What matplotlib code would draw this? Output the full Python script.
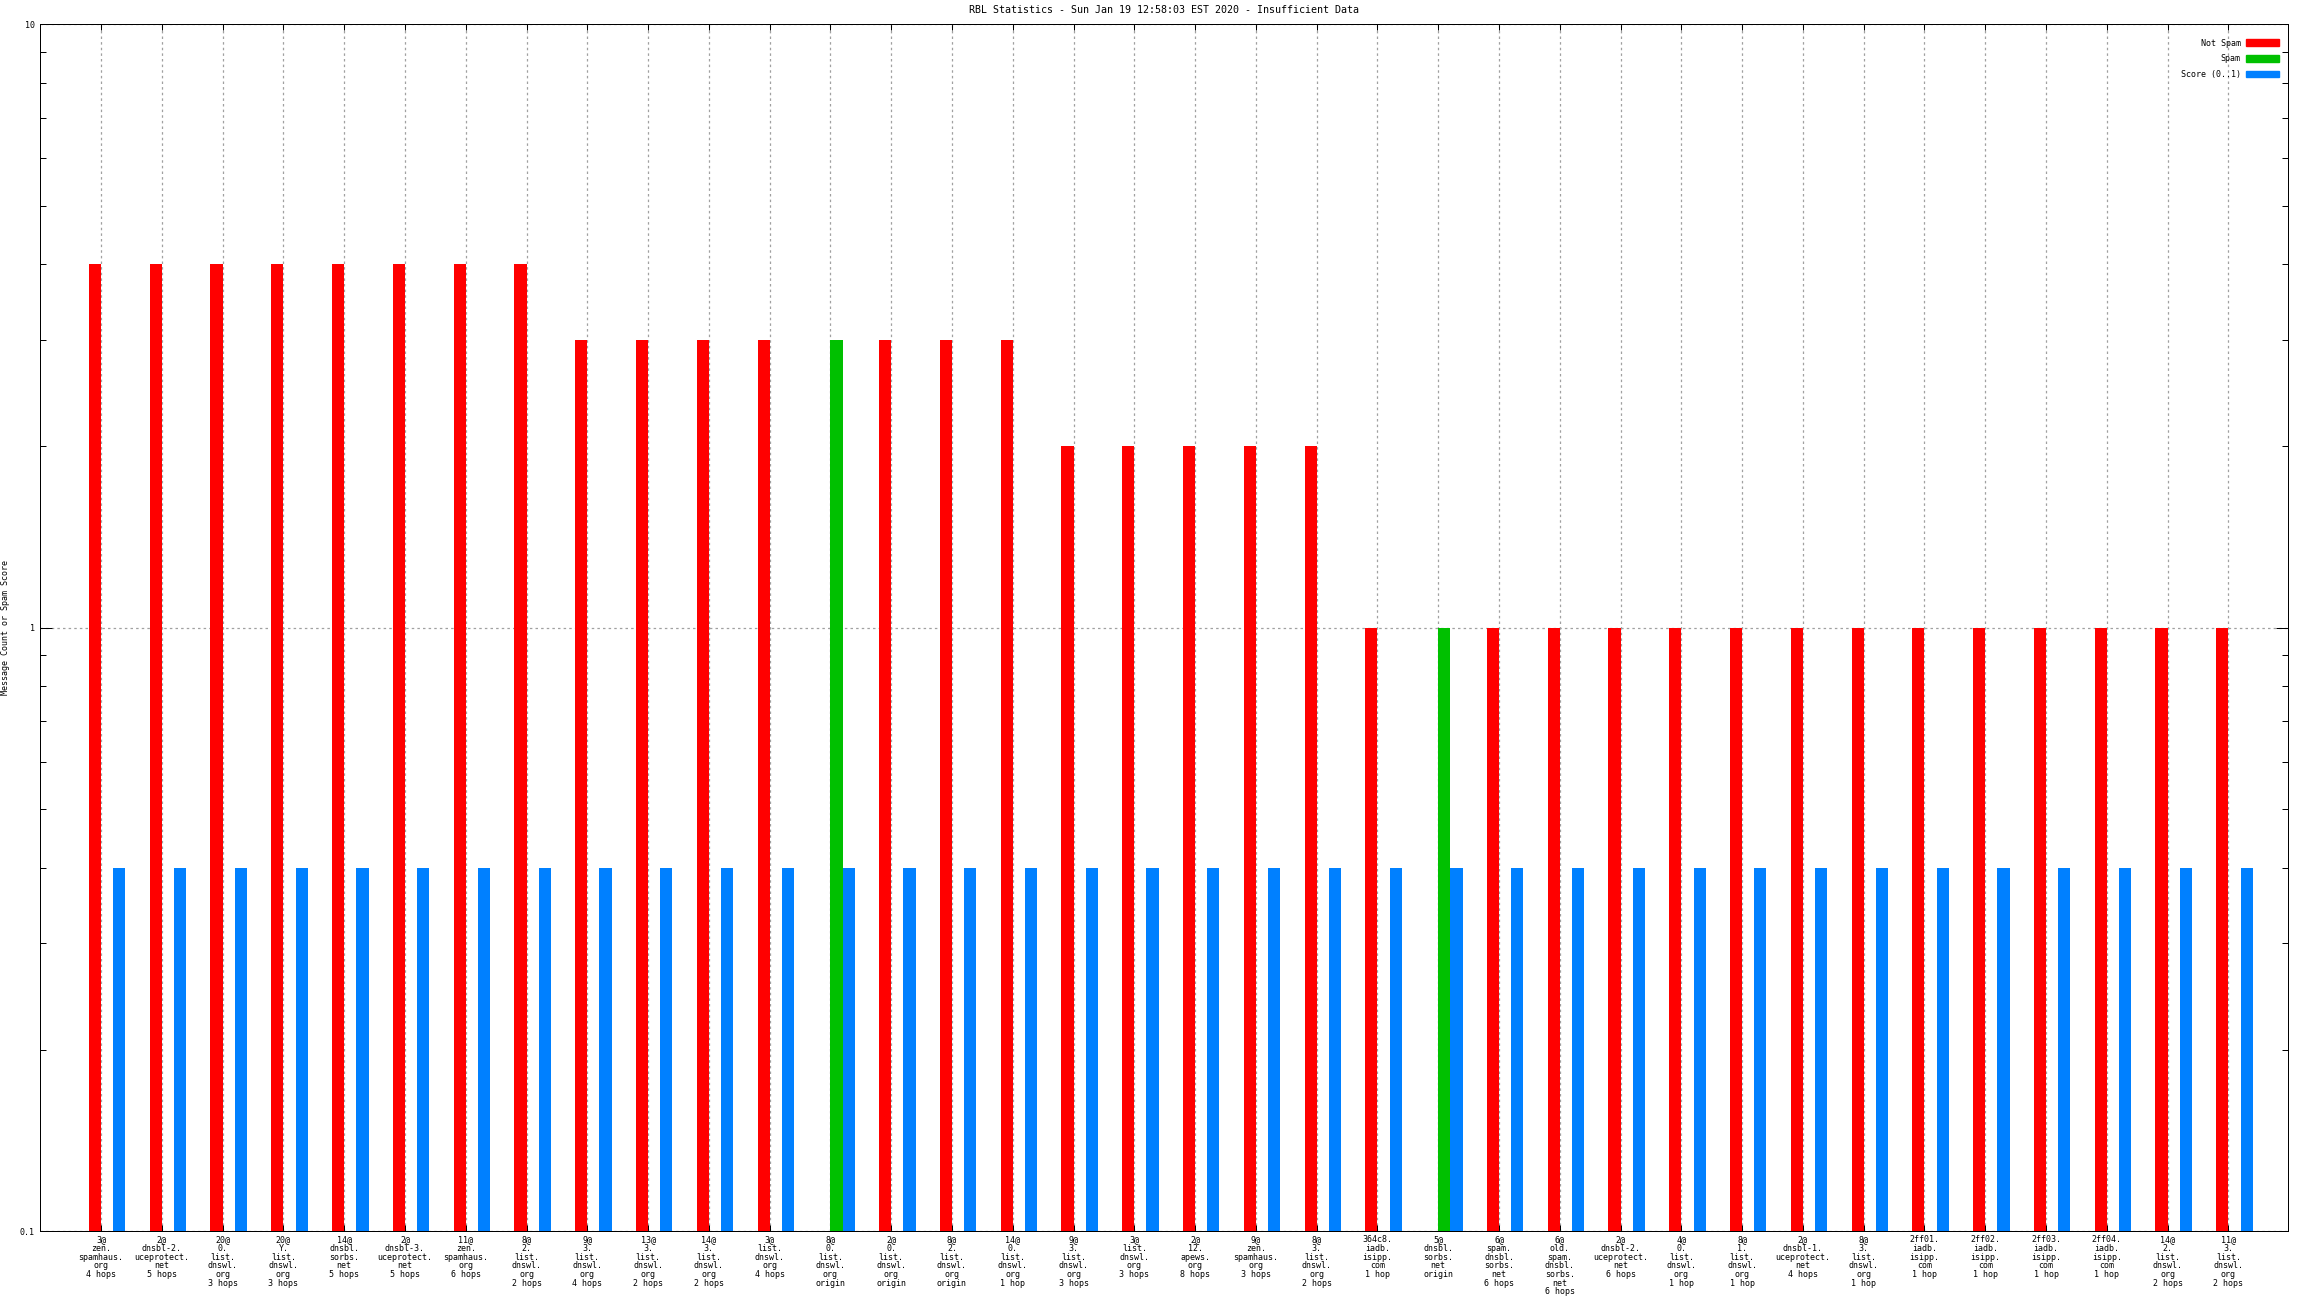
import numpy as np
import matplotlib
matplotlib.use('Agg')
import matplotlib.pyplot as plt
from matplotlib.patches import Patch
from matplotlib.ticker import FixedLocator, NullFormatter

plt.rcParams['font.family'] = ['DejaVu Sans Mono']
plt.rcParams['font.size'] = 6

# x tick labels, one per cluster
labels = [
    "3@\nzen.\nspamhaus.\norg\n4 hops",
    "2@\ndnsbl-2.\nuceprotect.\nnet\n5 hops",
    "20@\n0.\nlist.\ndnswl.\norg\n3 hops",
    "20@\nY.\nlist.\ndnswl.\norg\n3 hops",
    "14@\ndnsbl.\nsorbs.\nnet\n5 hops",
    "2@\ndnsbl-3.\nuceprotect.\nnet\n5 hops",
    "11@\nzen.\nspamhaus.\norg\n6 hops",
    "8@\n2.\nlist.\ndnswl.\norg\n2 hops",
    "9@\n3.\nlist.\ndnswl.\norg\n4 hops",
    "13@\n3.\nlist.\ndnswl.\norg\n2 hops",
    "14@\n3.\nlist.\ndnswl.\norg\n2 hops",
    "3@\nlist.\ndnswl.\norg\n4 hops",
    "8@\n0.\nlist.\ndnswl.\norg\norigin",
    "2@\n0.\nlist.\ndnswl.\norg\norigin",
    "8@\n2.\nlist.\ndnswl.\norg\norigin",
    "14@\n0.\nlist.\ndnswl.\norg\n1 hop",
    "9@\n3.\nlist.\ndnswl.\norg\n3 hops",
    "3@\nlist.\ndnswl.\norg\n3 hops",
    "2@\n12.\napews.\norg\n8 hops",
    "9@\nzen.\nspamhaus.\norg\n3 hops",
    "8@\n3.\nlist.\ndnswl.\norg\n2 hops",
    "364c8.\niadb.\nisipp.\ncom\n1 hop",
    "5@\ndnsbl.\nsorbs.\nnet\norigin",
    "6@\nspam.\ndnsbl.\nsorbs.\nnet\n6 hops",
    "6@\nold.\nspam.\ndnsbl.\nsorbs.\nnet\n6 hops",
    "2@\ndnsbl-2.\nuceprotect.\nnet\n6 hops",
    "4@\n0.\nlist.\ndnswl.\norg\n1 hop",
    "8@\n1.\nlist.\ndnswl.\norg\n1 hop",
    "2@\ndnsbl-1.\nuceprotect.\nnet\n4 hops",
    "8@\n3.\nlist.\ndnswl.\norg\n1 hop",
    "2ff01.\niadb.\nisipp.\ncom\n1 hop",
    "2ff02.\niadb.\nisipp.\ncom\n1 hop",
    "2ff03.\niadb.\nisipp.\ncom\n1 hop",
    "2ff04.\niadb.\nisipp.\ncom\n1 hop",
    "14@\n2.\nlist.\ndnswl.\norg\n2 hops",
    "11@\n3.\nlist.\ndnswl.\norg\n2 hops",
]

nan = np.nan
not_spam = [4, 4, 4, 4, 4, 4, 4, 4, 3, 3, 3, 3, nan, 3, 3, 3,
            2, 2, 2, 2, 2, 1, nan, 1, 1, 1, 1, 1, 1, 1, 1, 1, 1, 1, 1, 1]
spam = [nan] * 12 + [3] + [nan] * 9 + [1] + [nan] * 13
score = [0.4] * 36

red = '#ff0000'
green = '#00c000'
blue = '#0080ff'

fig = plt.figure(figsize=(23.04, 12.96), dpi=100)
ax = fig.add_axes([40.3 / 2304, 64.7 / 1296, (2288.3 - 40.3) / 2304, (1231.3 - 24.3) / 1296])

n = len(labels)
gap = 5
base = np.arange(n) * gap
ax.bar(base + 0, not_spam, width=1.0, color=red, zorder=3)
ax.bar(base + 1, spam, width=1.0, color=green, zorder=3)
ax.bar(base + 2, score, width=1.0, color=blue, zorder=3)

ax.set_yscale('log')
ax.set_ylim(0.1, 10)
ax.set_xlim(-4.5, base[-1] + 2.5 + 2.93)

ax.set_xticks(base + 0.5)
ax.set_xticklabels(labels, linespacing=0.95)
ax.set_yticks([0.1, 1, 10])
ax.set_yticklabels(['0.1', '1', '10'])
ax.yaxis.set_minor_locator(FixedLocator([m * 10.0 ** e for e in (-1, 0) for m in range(2, 10)]))
ax.yaxis.set_minor_formatter(NullFormatter())

ax.tick_params(axis='x', direction='in', length=4.3, width=0.72, top=True, pad=3)
ax.tick_params(axis='y', which='major', direction='in', length=8.6, width=0.72, right=True, pad=4)
ax.tick_params(axis='y', which='minor', direction='in', length=4.3, width=0.72, right=True)

ax.grid(True, which='major', axis='both', color='#a0a0a0', linestyle=(0, (2, 2.5)), linewidth=0.9)
ax.set_axisbelow(True)
for s in ax.spines.values():
    s.set_linewidth(0.72)

ax.set_ylabel('Message Count or Spam Score')
ax.yaxis.set_label_coords(-0.0137, 0.5)
ax.set_title('RBL Statistics - Sun Jan 19 12:58:03 EST 2020 - Insufficient Data', pad=8)

handles = [Patch(color=red, label='Not Spam'),
           Patch(color=green, label='Spam'),
           Patch(color=blue, label='Score (0..1)')]
ax.legend(handles=handles, loc='upper right', bbox_to_anchor=(2278.7 / 2304, 1 - 38.5 / 1296),
          bbox_transform=fig.transFigure, frameon=False, markerfirst=False,
          handlelength=3.9, handleheight=0.88, handletextpad=0.64, labelspacing=0.8,
          borderpad=0, borderaxespad=0)

fig.savefig('out.png', dpi=100)
